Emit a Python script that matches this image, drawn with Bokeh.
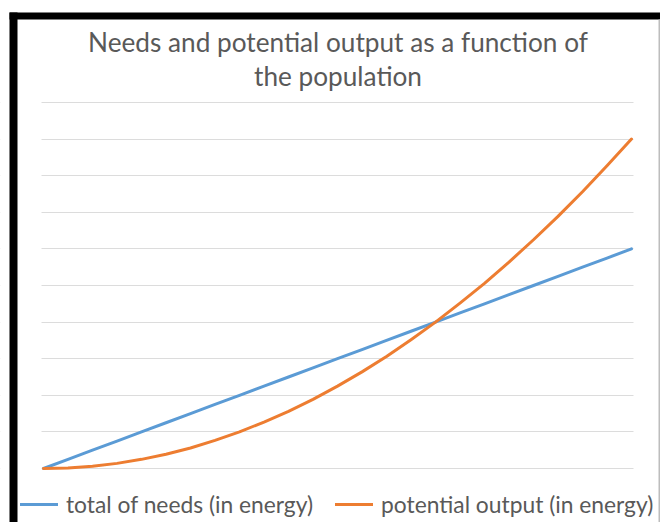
from bokeh.plotting import figure
from bokeh.models import Range1d, FixedTicker, Label, BoxAnnotation, Legend, LegendItem
from bokeh.embed import file_html
from bokeh.resources import INLINE

# ---- data ----
population = [0, 0.125, 0.25, 0.375, 0.5, 0.625, 0.75, 0.875, 1, 1.125, 1.25, 1.375, 1.5,
              1.625, 1.75, 1.875, 2, 2.125, 2.25, 2.375, 2.5, 2.625, 2.75, 2.875, 3]
needs = [0, 0.25, 0.5, 0.75, 1, 1.25, 1.5, 1.75, 2, 2.25, 2.5, 2.75, 3,
         3.25, 3.5, 3.75, 4, 4.25, 4.5, 4.75, 5, 5.25, 5.5, 5.75, 6]
output = [0, 0.016, 0.06, 0.14, 0.25, 0.39, 0.56, 0.77, 1, 1.27, 1.56, 1.89, 2.25,
          2.64, 3.06, 3.52, 4, 4.52, 5.06, 5.64, 6.25, 6.89, 7.56, 8.27, 9]
y_ticks = [0, 1, 2, 3, 4, 5, 6, 7, 8, 9, 10]
title_lines = ["Needs and potential output as a function of", "the population"]
series_names = ["total of needs (in energy)", "potential output (in energy)"]
series_colors = ["#5B9BD5", "#ED7D31"]

TEXT = "#595959"
FONT = "Lato"
W, H = 660, 522

# the frame covers the whole canvas; ranges put x=0..3 at px 43..631 and y=0..10 at px 468..102
px_x0, px_x1, px_y0, px_y1 = 43, 631, 468, 102
sx = (px_x1 - px_x0) / 3.0
sy = (px_y0 - px_y1) / 10.0
p = figure(width=W, height=H, output_backend="svg", toolbar_location=None,
           x_range=Range1d(-px_x0 / sx, 3 + (W - px_x1) / sx),
           y_range=Range1d(-(H - px_y0) / sy, 10 + px_y1 / sy),
           min_border=0)
p.xaxis.visible = False
p.yaxis.visible = False
p.xgrid.visible = False
p.ygrid.ticker = FixedTicker(ticks=y_ticks)
p.ygrid.grid_line_color = "#dcdcdc"
p.ygrid.grid_line_width = 1
p.outline_line_color = None
p.background_fill_color = "white"
p.border_fill_color = "white"

r_needs = p.line(population, needs, line_width=3, line_color=series_colors[0], line_join="round", line_cap="round")
r_out = p.line(population, output, line_width=3, line_color=series_colors[1], line_join="round", line_cap="round")


def sbox(left, right, top, bottom, color):
    # canvas pixel box (top-left origin) -> screen units (bottom-left origin)
    return BoxAnnotation(left=left, right=right, bottom=H - bottom, top=H - top,
                         left_units="screen", right_units="screen",
                         bottom_units="screen", top_units="screen",
                         fill_color=color, fill_alpha=1, line_color=None)


# white masks so the gridlines only span the plot area
p.add_layout(sbox(0, 41, 0, H, "white"))
p.add_layout(sbox(633, W, 0, H, "white"))

legend = Legend(items=[LegendItem(label=series_names[0], renderers=[r_needs]),
                       LegendItem(label=series_names[1], renderers=[r_out])],
                orientation="horizontal", location=(20, 4),
                border_line_color=None, background_fill_alpha=0,
                padding=0, margin=0, spacing=22, glyph_width=38, glyph_height=22,
                label_standoff=8, label_height=22,
                label_text_font=FONT, label_text_font_size="22.8px", label_text_color=TEXT)
p.add_layout(legend)

for i, t in enumerate(title_lines):
    p.add_layout(Label(x=337.5, y=H - (41 + 34 * i), x_units="screen", y_units="screen", text=t,
                       text_align="center", text_baseline="alphabetic",
                       text_font=FONT, text_font_size="26.2px", text_color=TEXT))

# black frame of the screenshot
p.add_layout(sbox(9, 17, 12, H, "black"))
p.add_layout(sbox(9, W, 12, 19, "black"))
p.add_layout(sbox(658, 659.5, 19, H, "#bdbdbd"))

open("out.html", "w").write(file_html(p, INLINE))
